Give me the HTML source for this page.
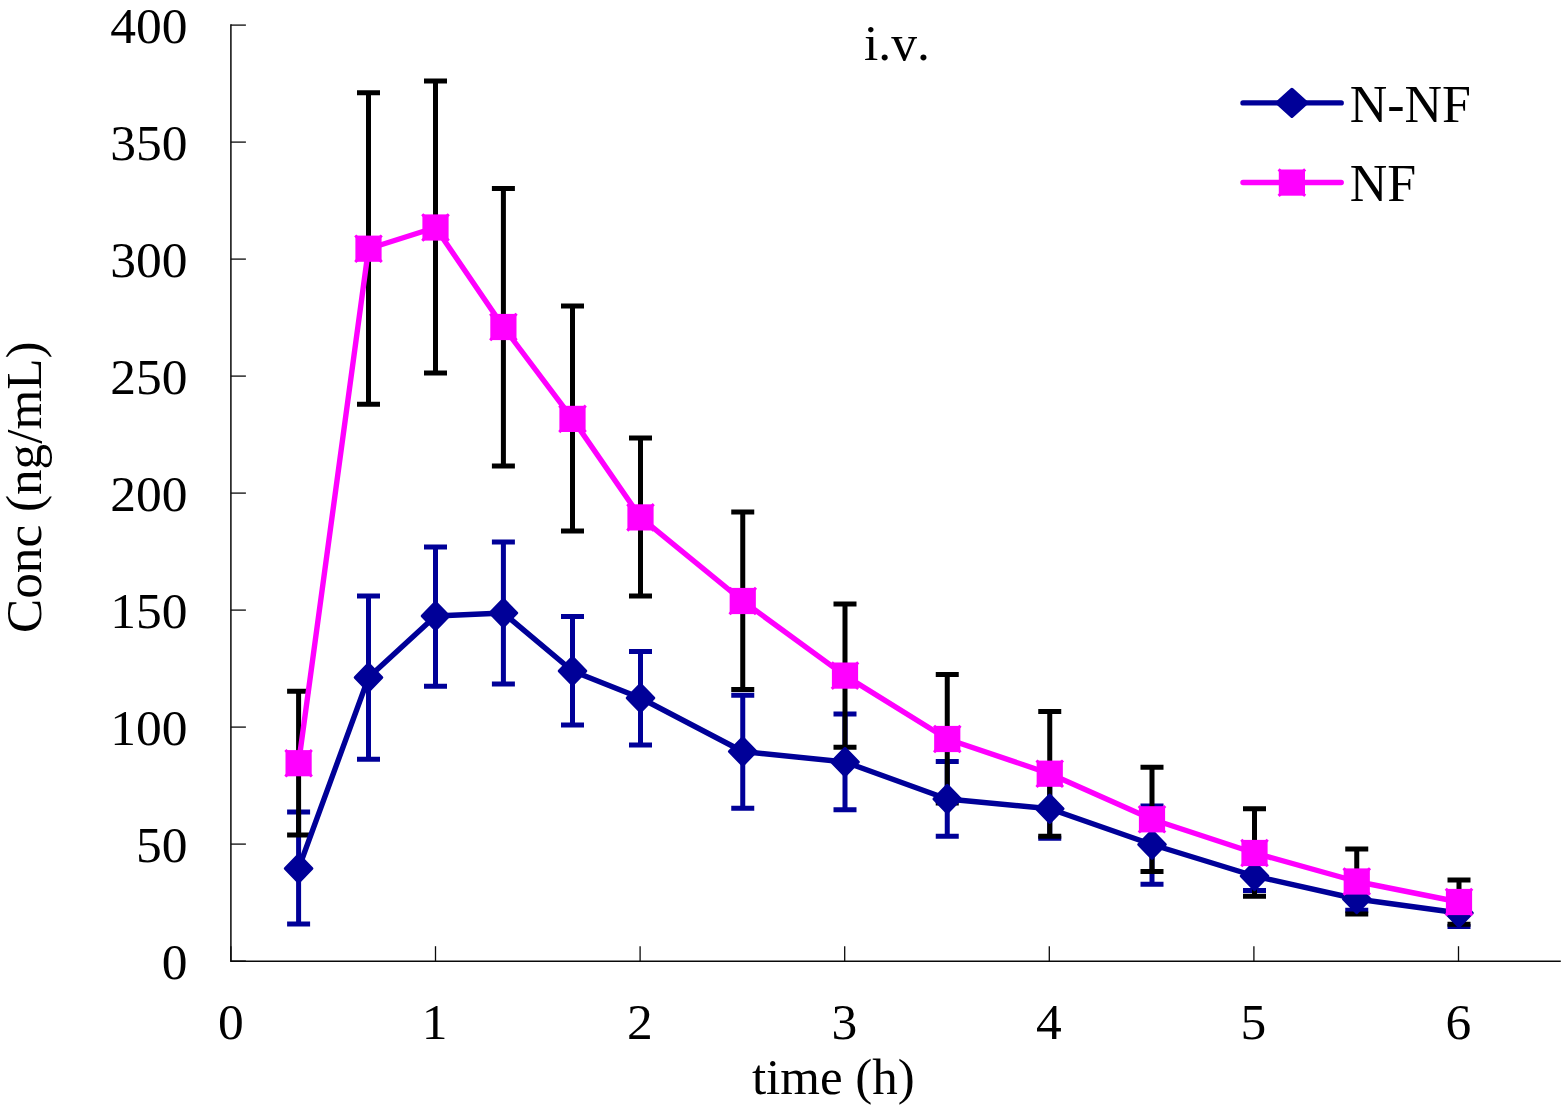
<!DOCTYPE html>
<html><head><meta charset="utf-8"><title>i.v.</title>
<style>
html,body{margin:0;padding:0;background:#fff}
svg{display:block}
text{font-family:"Liberation Serif",serif;font-size:51.5px;fill:#000;font-kerning:none;font-variant-ligatures:none}
</style></head><body>
<svg width="1566" height="1110" viewBox="0 0 1566 1110">
<rect width="1566" height="1110" fill="#fff"/>

<g stroke="#0a0a0a" stroke-width="1.5" fill="none">
<path d="M230.9 24.2V961.2H1560.8"/>
<path d="M230.9 25.1h15" stroke-width="1.3"/>
<path d="M230.9 142.1h15" stroke-width="1.3"/>
<path d="M230.9 259.1h15" stroke-width="1.3"/>
<path d="M230.9 376.1h15" stroke-width="1.3"/>
<path d="M230.9 493.1h15" stroke-width="1.3"/>
<path d="M230.9 610.1h15" stroke-width="1.3"/>
<path d="M230.9 727.1h15" stroke-width="1.3"/>
<path d="M230.9 844.1h15" stroke-width="1.3"/>
<path d="M230.9 961.1h15" stroke-width="1.3"/>
<path d="M230.9 961.2v-15" stroke-width="1.3"/>
<path d="M435.5 961.2v-15" stroke-width="1.3"/>
<path d="M640.1 961.2v-15" stroke-width="1.3"/>
<path d="M844.7 961.2v-15" stroke-width="1.3"/>
<path d="M1049.3 961.2v-15" stroke-width="1.3"/>
<path d="M1253.9 961.2v-15" stroke-width="1.3"/>
<path d="M1458.5 961.2v-15" stroke-width="1.3"/>
</g>
<text x="187.4" y="43.0" text-anchor="end">400</text>
<text x="187.4" y="160.0" text-anchor="end">350</text>
<text x="187.4" y="277.0" text-anchor="end">300</text>
<text x="187.4" y="394.0" text-anchor="end">250</text>
<text x="187.4" y="511.0" text-anchor="end">200</text>
<text x="187.4" y="628.0" text-anchor="end">150</text>
<text x="187.4" y="745.0" text-anchor="end">100</text>
<text x="187.4" y="862.0" text-anchor="end">50</text>
<text x="187.4" y="979.0" text-anchor="end">0</text>
<text x="230.8" y="1038.9" text-anchor="middle">0</text>
<text x="434.6" y="1038.9" text-anchor="middle">1</text>
<text x="639.8" y="1038.9" text-anchor="middle">2</text>
<text x="844.3" y="1038.9" text-anchor="middle">3</text>
<text x="1048.8" y="1038.9" text-anchor="middle">4</text>
<text x="1253.3" y="1038.9" text-anchor="middle">5</text>
<text x="1458.3" y="1038.9" text-anchor="middle">6</text>
<text x="833.4" y="1093.9" text-anchor="middle" style="font-size:51px">time (h)</text>
<text transform="translate(40.6,487.2) rotate(-90)" text-anchor="middle" style="font-size:51.2px">Conc (ng/mL)</text>
<text x="896.9" y="60.3" text-anchor="middle">i.v.</text>
<g stroke="#000098" stroke-width="5" fill="none"><path d="M298.6 812V924M287.1 812h23M287.1 924h23"/><path d="M368.5 596V759.2M357.0 596h23M357.0 759.2h23"/><path d="M435.5 547V686.3M424.0 547h23M424.0 686.3h23"/><path d="M503.4 542V683.9M491.9 542h23M491.9 683.9h23"/><path d="M572.5 616.5V725M561.0 616.5h23M561.0 725h23"/><path d="M640.5 651.6V744.9M629.0 651.6h23M629.0 744.9h23"/><path d="M742.75 695.3V808.2M731.25 695.3h23M731.25 808.2h23"/><path d="M845.0 714V809.75M833.5 714h23M833.5 809.75h23"/><path d="M947.25 761.5V836.3M935.75 761.5h23M935.75 836.3h23"/><path d="M1049.75 782V838.3M1038.25 782h23M1038.25 838.3h23"/><path d="M1152.0 806V884.2M1140.5 806h23M1140.5 884.2h23"/><path d="M1254.5 858V890.6M1243.0 858h23M1243.0 890.6h23"/><path d="M1356.75 885V910.3M1345.25 885h23M1345.25 910.3h23"/><path d="M1459.0 899V926.4M1447.5 899h23M1447.5 926.4h23"/></g>
<g stroke="#000" stroke-width="5" fill="none"><path d="M298.6 691.2V835M287.1 691.2h23M287.1 835h23"/><path d="M368.5 92.8V404.3M357.0 92.8h23M357.0 404.3h23"/><path d="M435.5 81V373M424.0 81h23M424.0 373h23"/><path d="M503.4 188.5V466M491.9 188.5h23M491.9 466h23"/><path d="M572.5 306V531M561.0 306h23M561.0 531h23"/><path d="M640.5 438V596M629.0 438h23M629.0 596h23"/><path d="M742.75 512V689.6M731.25 512h23M731.25 689.6h23"/><path d="M845.0 604V747.3M833.5 604h23M833.5 747.3h23"/><path d="M947.25 674.5V803M935.75 674.5h23M935.75 803h23"/><path d="M1049.75 711.5V836.2M1038.25 711.5h23M1038.25 836.2h23"/><path d="M1152.0 767.2V871.5M1140.5 767.2h23M1140.5 871.5h23"/><path d="M1254.5 808.75V896.2M1243.0 808.75h23M1243.0 896.2h23"/><path d="M1356.75 849V914M1345.25 849h23M1345.25 914h23"/><path d="M1459.0 880V924.3M1447.5 880h23M1447.5 924.3h23"/></g>
<path d="M298.6 868.5L368.5 677.5L435.5 616L503.4 613L572.5 671L640.5 698L742.75 751.5L845.0 762L947.25 799L1049.75 808.75L1152.0 844.5L1254.5 876L1356.75 899L1459.0 913" stroke="#000098" stroke-width="5.4" fill="none" stroke-linejoin="round" stroke-linecap="round"/>
<g fill="#000098" stroke="#000098" stroke-width="3" stroke-linejoin="round"><path d="M298.6 854.80l13.3 13.7l-13.3 13.7l-13.3-13.7z"/><path d="M368.5 663.80l13.3 13.7l-13.3 13.7l-13.3-13.7z"/><path d="M435.5 602.30l13.3 13.7l-13.3 13.7l-13.3-13.7z"/><path d="M503.4 599.30l13.3 13.7l-13.3 13.7l-13.3-13.7z"/><path d="M572.5 657.30l13.3 13.7l-13.3 13.7l-13.3-13.7z"/><path d="M640.5 684.30l13.3 13.7l-13.3 13.7l-13.3-13.7z"/><path d="M742.75 737.80l13.3 13.7l-13.3 13.7l-13.3-13.7z"/><path d="M845.0 748.30l13.3 13.7l-13.3 13.7l-13.3-13.7z"/><path d="M947.25 785.30l13.3 13.7l-13.3 13.7l-13.3-13.7z"/><path d="M1049.75 795.05l13.3 13.7l-13.3 13.7l-13.3-13.7z"/><path d="M1152.0 830.80l13.3 13.7l-13.3 13.7l-13.3-13.7z"/><path d="M1254.5 862.30l13.3 13.7l-13.3 13.7l-13.3-13.7z"/><path d="M1356.75 885.30l13.3 13.7l-13.3 13.7l-13.3-13.7z"/><path d="M1459.0 899.30l13.3 13.7l-13.3 13.7l-13.3-13.7z"/></g>
<path d="M298.6 763.2L368.5 248.7L435.5 227.5L503.4 327L572.5 418.9L640.5 517.4L742.75 601L845.0 675.6L947.25 739L1049.75 773.7L1152.0 819.3L1254.5 853L1356.75 881.5L1459.0 902" stroke="#ff00ff" stroke-width="5.4" fill="none" stroke-linejoin="round" stroke-linecap="round"/>
<g fill="#ff00ff"><rect x="285.50" y="750.10" width="26.2" height="26.2"/><path d="M284.30 751.00l2.1 -2.1l2.1 2.1l-2.1 2.1z"/><path d="M284.30 775.40l2.1 -2.1l2.1 2.1l-2.1 2.1z"/><path d="M308.70 751.00l2.1 -2.1l2.1 2.1l-2.1 2.1z"/><path d="M308.70 775.40l2.1 -2.1l2.1 2.1l-2.1 2.1z"/><rect x="355.40" y="235.60" width="26.2" height="26.2"/><path d="M354.20 236.50l2.1 -2.1l2.1 2.1l-2.1 2.1z"/><path d="M354.20 260.90l2.1 -2.1l2.1 2.1l-2.1 2.1z"/><path d="M378.60 236.50l2.1 -2.1l2.1 2.1l-2.1 2.1z"/><path d="M378.60 260.90l2.1 -2.1l2.1 2.1l-2.1 2.1z"/><rect x="422.40" y="214.40" width="26.2" height="26.2"/><path d="M421.20 215.30l2.1 -2.1l2.1 2.1l-2.1 2.1z"/><path d="M421.20 239.70l2.1 -2.1l2.1 2.1l-2.1 2.1z"/><path d="M445.60 215.30l2.1 -2.1l2.1 2.1l-2.1 2.1z"/><path d="M445.60 239.70l2.1 -2.1l2.1 2.1l-2.1 2.1z"/><rect x="490.30" y="313.90" width="26.2" height="26.2"/><path d="M489.10 314.80l2.1 -2.1l2.1 2.1l-2.1 2.1z"/><path d="M489.10 339.20l2.1 -2.1l2.1 2.1l-2.1 2.1z"/><path d="M513.50 314.80l2.1 -2.1l2.1 2.1l-2.1 2.1z"/><path d="M513.50 339.20l2.1 -2.1l2.1 2.1l-2.1 2.1z"/><rect x="559.40" y="405.80" width="26.2" height="26.2"/><path d="M558.20 406.70l2.1 -2.1l2.1 2.1l-2.1 2.1z"/><path d="M558.20 431.10l2.1 -2.1l2.1 2.1l-2.1 2.1z"/><path d="M582.60 406.70l2.1 -2.1l2.1 2.1l-2.1 2.1z"/><path d="M582.60 431.10l2.1 -2.1l2.1 2.1l-2.1 2.1z"/><rect x="627.40" y="504.30" width="26.2" height="26.2"/><path d="M626.20 505.20l2.1 -2.1l2.1 2.1l-2.1 2.1z"/><path d="M626.20 529.60l2.1 -2.1l2.1 2.1l-2.1 2.1z"/><path d="M650.60 505.20l2.1 -2.1l2.1 2.1l-2.1 2.1z"/><path d="M650.60 529.60l2.1 -2.1l2.1 2.1l-2.1 2.1z"/><rect x="729.65" y="587.90" width="26.2" height="26.2"/><path d="M728.45 588.80l2.1 -2.1l2.1 2.1l-2.1 2.1z"/><path d="M728.45 613.20l2.1 -2.1l2.1 2.1l-2.1 2.1z"/><path d="M752.85 588.80l2.1 -2.1l2.1 2.1l-2.1 2.1z"/><path d="M752.85 613.20l2.1 -2.1l2.1 2.1l-2.1 2.1z"/><rect x="831.90" y="662.50" width="26.2" height="26.2"/><path d="M830.70 663.40l2.1 -2.1l2.1 2.1l-2.1 2.1z"/><path d="M830.70 687.80l2.1 -2.1l2.1 2.1l-2.1 2.1z"/><path d="M855.10 663.40l2.1 -2.1l2.1 2.1l-2.1 2.1z"/><path d="M855.10 687.80l2.1 -2.1l2.1 2.1l-2.1 2.1z"/><rect x="934.15" y="725.90" width="26.2" height="26.2"/><path d="M932.95 726.80l2.1 -2.1l2.1 2.1l-2.1 2.1z"/><path d="M932.95 751.20l2.1 -2.1l2.1 2.1l-2.1 2.1z"/><path d="M957.35 726.80l2.1 -2.1l2.1 2.1l-2.1 2.1z"/><path d="M957.35 751.20l2.1 -2.1l2.1 2.1l-2.1 2.1z"/><rect x="1036.65" y="760.60" width="26.2" height="26.2"/><path d="M1035.45 761.50l2.1 -2.1l2.1 2.1l-2.1 2.1z"/><path d="M1035.45 785.90l2.1 -2.1l2.1 2.1l-2.1 2.1z"/><path d="M1059.85 761.50l2.1 -2.1l2.1 2.1l-2.1 2.1z"/><path d="M1059.85 785.90l2.1 -2.1l2.1 2.1l-2.1 2.1z"/><rect x="1138.90" y="806.20" width="26.2" height="26.2"/><path d="M1137.70 807.10l2.1 -2.1l2.1 2.1l-2.1 2.1z"/><path d="M1137.70 831.50l2.1 -2.1l2.1 2.1l-2.1 2.1z"/><path d="M1162.10 807.10l2.1 -2.1l2.1 2.1l-2.1 2.1z"/><path d="M1162.10 831.50l2.1 -2.1l2.1 2.1l-2.1 2.1z"/><rect x="1241.40" y="839.90" width="26.2" height="26.2"/><path d="M1240.20 840.80l2.1 -2.1l2.1 2.1l-2.1 2.1z"/><path d="M1240.20 865.20l2.1 -2.1l2.1 2.1l-2.1 2.1z"/><path d="M1264.60 840.80l2.1 -2.1l2.1 2.1l-2.1 2.1z"/><path d="M1264.60 865.20l2.1 -2.1l2.1 2.1l-2.1 2.1z"/><rect x="1343.65" y="868.40" width="26.2" height="26.2"/><path d="M1342.45 869.30l2.1 -2.1l2.1 2.1l-2.1 2.1z"/><path d="M1342.45 893.70l2.1 -2.1l2.1 2.1l-2.1 2.1z"/><path d="M1366.85 869.30l2.1 -2.1l2.1 2.1l-2.1 2.1z"/><path d="M1366.85 893.70l2.1 -2.1l2.1 2.1l-2.1 2.1z"/><rect x="1445.90" y="888.90" width="26.2" height="26.2"/><path d="M1444.70 889.80l2.1 -2.1l2.1 2.1l-2.1 2.1z"/><path d="M1444.70 914.20l2.1 -2.1l2.1 2.1l-2.1 2.1z"/><path d="M1469.10 889.80l2.1 -2.1l2.1 2.1l-2.1 2.1z"/><path d="M1469.10 914.20l2.1 -2.1l2.1 2.1l-2.1 2.1z"/></g>
<path d="M1243 102.9H1341.2" stroke="#000098" stroke-width="5.4" stroke-linecap="round"/>
<path d="M1291.9 89.64l14.6 13.26l-14.6 13.26l-14.6-13.26z" fill="#000098" stroke="#000098" stroke-width="3.6" stroke-linejoin="round"/>
<path d="M1243 182.5H1341.2" stroke="#ff00ff" stroke-width="5.4" stroke-linecap="round"/>
<g fill="#ff00ff"><rect x="1278.80" y="169.50" width="26.2" height="26.2"/><path d="M1277.60 170.40l2.1 -2.1l2.1 2.1l-2.1 2.1z"/><path d="M1277.60 194.80l2.1 -2.1l2.1 2.1l-2.1 2.1z"/><path d="M1302.00 170.40l2.1 -2.1l2.1 2.1l-2.1 2.1z"/><path d="M1302.00 194.80l2.1 -2.1l2.1 2.1l-2.1 2.1z"/></g>
<text x="1349.8" y="121.9" style="font-size:51.9px">N-NF</text>
<text x="1349.8" y="201.2" style="font-size:51.9px">NF</text>
</svg></body></html>
